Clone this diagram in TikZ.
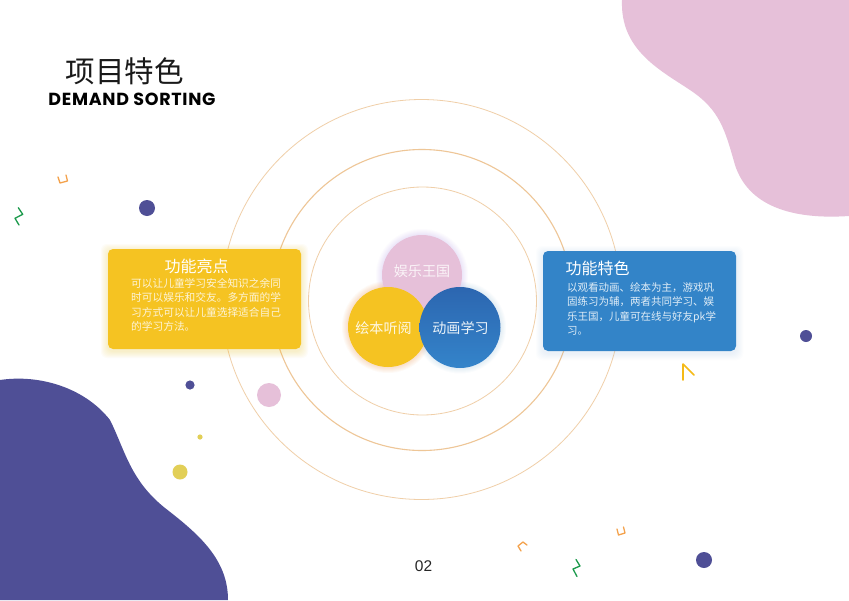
\documentclass[tikz,border=0pt]{standalone}
\usepackage{fontspec}
\setmainfont{Liberation Sans}
\newfontfamily\cjk{Noto Sans CJK SC}
\newfontfamily\demfont{Poppins}[LetterSpace=4]
\definecolor{ringc}{HTML}{F0CFA8}
\definecolor{ringd}{HTML}{EEC697}
\definecolor{purp}{HTML}{4F4F96}
\definecolor{pinkb}{HTML}{E6C0D9}
\definecolor{yelb}{HTML}{F5C322}
\definecolor{blueb}{HTML}{3384C8}
\definecolor{bluetop}{HTML}{2C66B0}
\definecolor{bluebot}{HTML}{3484CA}
\definecolor{orng}{HTML}{F4A24C}
\definecolor{grn}{HTML}{1C9A4C}
\definecolor{ydot}{HTML}{E2CF57}
\definecolor{caret}{HTML}{F5BA16}
\tikzset{
  ring/.style={draw=ringc, line width=0.8pt},
  dot/.style={fill=purp},
  deco/.style={line width=1.3pt, line cap=round, line join=round},
  boxtitle/.style={font=\cjk\fontsize{16}{18}\selectfont, text=white, inner sep=0},
  ybody/.style={font=\cjk\fontsize{10.7}{13}\selectfont, text=white!82!yelb, inner sep=0, anchor=base west},
  bbody/.style={font=\cjk\fontsize{10.5}{13}\selectfont, text=white!85!blueb, inner sep=0, anchor=base west},
  venn/.style={font=\cjk\fontsize{14.1}{16}\selectfont, inner sep=0},
}
\begin{document}
\begin{tikzpicture}[x=1pt,y=-1pt]
\useasboundingbox (0,0) rectangle (849,600);
\fill[white] (0,0) rectangle (849,600);
% blobs
\fill[pinkb] (622,0) .. controls (620,50) and (660,70) .. (690,90)
  .. controls (720,110) and (725,130) .. (735,165)
  .. controls (748,205) and (790,220) .. (849,216) -- (849,0) -- cycle;
\fill[purp] (0,600) -- (0,380) .. controls (40,374) and (85,388) .. (110,420)
  .. controls (125,450) and (130,480) .. (165,508)
  .. controls (200,535) and (228,560) .. (228,600) -- cycle;
% rings
\draw[ring] (421.5,299.5) circle (200);
\draw[ringd, line width=1.1pt] (422,300) circle (150.5);
\draw[ring] (422.5,301) circle (114);
% dots
\fill[dot] (147,208) circle (8);
\fill[dot] (806,336) circle (6);
\fill[dot] (190,385) circle (4.6);
\fill[pinkb] (269,395) circle (12);
\fill[ydot] (200,437) circle (2.6);
\fill[ydot] (180,472) circle (7.5);
\fill[dot] (704,560) circle (8);
% small decorations
\draw[deco, draw=orng] (66,175) -- (67.5,181) -- (60,183) -- (58,177);
\draw[deco, draw=orng] (521,551) -- (518,546) -- (523,542) -- (527,545);
\draw[deco, draw=orng] (617,529) -- (618.5,535) -- (625,533) -- (623.5,527);
\draw[deco, draw=grn] (18.3,207.7) -- (22.7,214.3) -- (15,218.3) -- (19,225);
\draw[deco, draw=grn] (576,559.5) -- (580,566) -- (573,569) -- (577,576.5);
\draw[deco, draw=caret, line width=1.6pt] (683,380) -- (683,364) -- (694,375);
% glows of boxes
\foreach \g in {1,...,7}{
  \fill[yelb, opacity=0.035, rounded corners=6pt] (108-\g,249-\g+2) rectangle (301+\g,349+\g+2);
  \fill[blueb!50!white, opacity=0.025, rounded corners=6pt] (543-\g,251-\g+2) rectangle (736+\g,351+\g+2);
}
% boxes
\fill[yelb, rounded corners=5pt] (108,249) rectangle (301,349);
\fill[blueb, rounded corners=5pt] (543,251) rectangle (736,351);
\node[boxtitle] (ytitle) at (196.5,266) {功能亮点};
\node[ybody] (y1) at (131,287.5) {可以让儿童学习安全知识之余同};
\node[ybody] (y2) at (131,301.8) {时可以娱乐和交友。多方面的学};
\node[ybody] (y3) at (131,316.1) {习方式可以让儿童选择适合自己};
\node[ybody] (y4) at (131,330.4) {的学习方法。};
\node[boxtitle, anchor=west] (btitle) at (565.5,268) {功能特色};
\node[bbody] (b1) at (567,291) {以观看动画、绘本为主，游戏巩};
\node[bbody] (b2) at (567,305.5) {固练习为辅，两者共同学习、娱};
\node[bbody] (b3) at (567,320) {乐王国，儿童可在线与好友pk学};
\node[bbody] (b4) at (567,334.5) {习。};
% venn glows
\foreach \g in {1,...,6}{
  \fill[pinkb!70!blue, opacity=0.03] (422,275) circle (40+\g);
  \fill[red!40!yelb, opacity=0.035] (388,327) circle (40+\g);
  \fill[bluebot!60!white, opacity=0.04] (460,327.5) circle (40+\g);
}
\fill[pinkb] (422,275) circle (40);
\fill[yelb] (388,327) circle (40);
\shade[top color=bluetop, bottom color=bluebot] (460,327.5) circle (40.5);
\node[venn, text=white!80!pinkb] (v1) at (422,271) {娱乐王国};
\node[venn, text=white!88!yelb] (v2) at (383.5,328.5) {绘本听阅};
\node[venn, text=white!90!blueb] (v3) at (460.5,328.5) {动画学习};
% titles
\node[font=\cjk\fontsize{29.5}{32}\selectfont, text=black!90, inner sep=0] (title) at (124.5,71) {项目特色};
\node[font=\demfont\bfseries\fontsize{17.5}{20}\selectfont, inner sep=0] (sub) at (132,99.5) {DEMAND SORTING};
\node[font=\fontsize{15.5}{18}\selectfont, text=black!85, inner sep=0] (page) at (423.5,566) {02};
\end{tikzpicture}
\end{document}
